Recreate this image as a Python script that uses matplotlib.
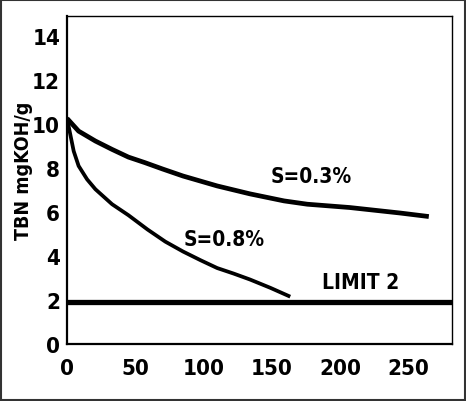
import matplotlib
matplotlib.use("Agg")
import matplotlib.pyplot as plt
from matplotlib.patches import Rectangle

plt.rcParams['font.family'] = ['DejaVu Sans']
plt.rcParams['font.stretch'] = 'condensed'
plt.rcParams['font.weight'] = 'bold'
plt.rcParams['axes.labelweight'] = 'bold'

# values (hours vs TBN)
hours_s03 = [0, 8.5, 20.8, 33, 45, 57, 70, 85, 110, 134, 159, 176, 207, 244, 265]
tbn_s03 = [10.25, 9.67, 9.22, 8.84, 8.49, 8.24, 7.95, 7.63, 7.18, 6.82, 6.5, 6.35, 6.2, 5.95, 5.79]

hours_s08 = [0, 2.4, 4.9, 8.5, 14.7, 20.8, 33, 45, 59, 72, 85, 98, 110, 122, 134, 149, 163.5]
tbn_s08 = [10.25, 9.52, 8.76, 8.09, 7.48, 7.03, 6.35, 5.85, 5.2, 4.65, 4.2, 3.8, 3.45, 3.2, 2.93, 2.55, 2.15]

limit_value = 1.9
limit_x = [0, 282]

labels = {"S=0.3%": (179, 7.63), "S=0.8%": (115, 4.76), "LIMIT 2": (215, 2.8)}

fig = plt.figure(figsize=(4.66, 4.02), dpi=100)
ax = fig.add_axes([0.1438, 0.1418, 0.8262, 0.8159])

ax.plot(hours_s03, tbn_s03, color='black', lw=3.4, solid_capstyle='butt', solid_joinstyle='round')
ax.plot(hours_s08, tbn_s08, color='black', lw=2.7, solid_capstyle='butt', solid_joinstyle='round')
ax.plot(limit_x, [limit_value] * 2, color='black', lw=3.8, solid_capstyle='butt')

for txt, (x, y) in labels.items():
    ax.text(x, y, txt, ha='center', va='center', fontsize=15, color='black')

ax.set_xlim(0, 282)
ax.set_ylim(0, 14.9)
ax.set_xticks([0, 50, 100, 150, 200, 250])
ax.set_yticks(range(0, 15, 2))
ax.tick_params(axis='both', length=0, labelsize=16)
ax.tick_params(axis='x', pad=10)
ax.tick_params(axis='y', pad=5)
ax.set_ylabel('TBN mgKOH/g', fontsize=14)
ax.yaxis.set_label_coords(-0.088, 0.53)

for side in ['left', 'bottom']:
    ax.spines[side].set_linewidth(1.6)
for side in ['top', 'right']:
    ax.spines[side].set_linewidth(1.0)

# dark frame round the whole picture
fig.patches.append(Rectangle((0.002, 0.002), 0.996, 0.996, transform=fig.transFigure,
                             fill=False, edgecolor='#333333', lw=1.5))

fig.savefig('out.png', dpi=100)
